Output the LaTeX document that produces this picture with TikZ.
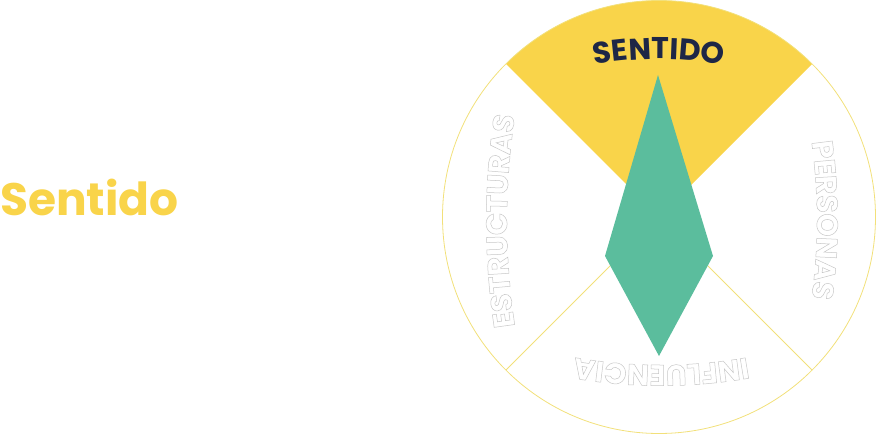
\documentclass[tikz,border=0pt]{standalone}
\usepackage{fontspec}
\setmainfont{Poppins}
\usetikzlibrary{decorations.text}
\definecolor{sunyellow}{HTML}{F9D44A}
\definecolor{rimyellow}{HTML}{F2E07A}
\definecolor{jade}{HTML}{5BBD9D}
\definecolor{navy}{HTML}{1E2746}
\newcommand{\wheelRadius}{216.5}
\newcommand{\outlineOn}{\special{pdf:literal direct 1 Tr 0.5 w}}
\newcommand{\arcFont}{\fontsize{29.5}{29.5}\selectfont\bfseries}

\begin{document}
\begin{tikzpicture}[x=1pt, y=1pt]
  \tikzset{rim line/.style={draw=rimyellow, line width=0.8pt},
           ghost label/.style={decorate, decoration={text along path, text align=center,
             text color=black!22, text={|\arcFont\outlineOn|#1}}}}
  \useasboundingbox (-659,-217) rectangle (218,217);
  \coordinate (hub) at (0,0);
  \fill[sunyellow] (hub) -- (135:\wheelRadius) arc[start angle=135, end angle=45, radius=\wheelRadius] -- cycle;
  \draw[rim line] (hub) circle[radius=\wheelRadius];
  \coordinate (rimSE) at (-45:\wheelRadius);
  \coordinate (rimSW) at (-135:\wheelRadius);
  \draw[rim line] (hub) -- (rimSE);
  \draw[rim line] (hub) -- (rimSW);
  \fill[jade] (-1,142) -- (54,-39) -- (0,-139) -- (-54,-39) -- cycle;
  \node[anchor=base west, inner sep=0pt, text=sunyellow, font=\fontsize{45.5}{45.5}\selectfont\bfseries] (side) at (-659,2) {Sentido};
  \path[decorate, decoration={text along path, text align=center, text color=navy,
    text={|\fontsize{30}{30}\selectfont\bfseries|SENTIDO}}]
    ([shift={(0,-202)}]110:360) arc[start angle=110, end angle=70, radius=360];
  \path[ghost label=PERSONAS] ([shift={(-402,-3)}]12:560) arc[start angle=12, end angle=-12, radius=560];
  \path[ghost label=INFLUENCIA] ([shift={(2,352)}]-75:500) arc[start angle=-75, end angle=-105, radius=500];
  \path[ghost label=ESTRUCTURAS] ([shift={(548,-4)}]191:700) arc[start angle=191, end angle=169, radius=700];
\end{tikzpicture}
\end{document}
